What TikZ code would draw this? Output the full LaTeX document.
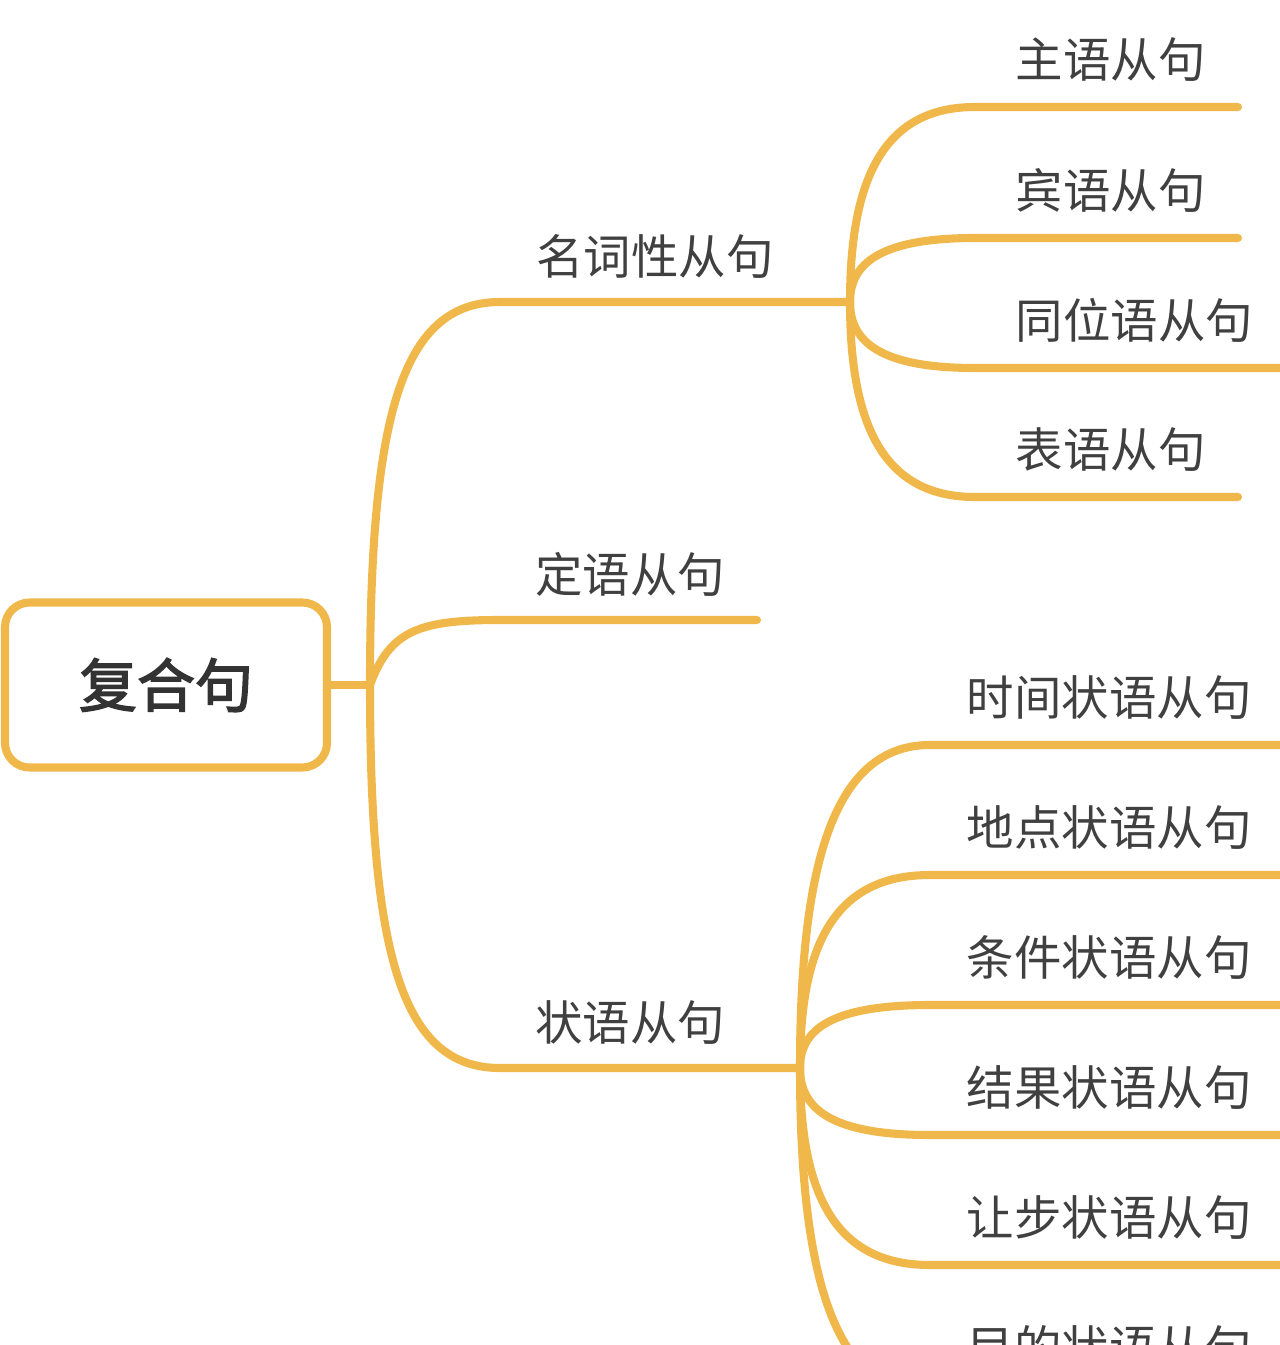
\documentclass[tikz,border=0pt]{standalone}
\usepackage{fontspec}
\newfontfamily\cjk{Noto Sans CJK SC}
\newfontfamily\cjkbold[FakeBold=2.5]{Noto Sans CJK SC}
\definecolor{branch}{HTML}{F0B84A}
\tikzset{
  edge/.style={draw=branch, line width=4.6pt, line cap=round},
  lbl/.style={font=\cjk\fontsize{27}{30}\selectfont, text=black!75, anchor=south, inner sep=2pt},
}
\begin{document}
\begin{tikzpicture}[x=0.02cm,y=-0.02cm]
  \useasboundingbox (0,0) rectangle (1280,1345);
  \clip (0,0) rectangle (1280,1345);
  % root
  \node[draw=branch, line width=4.6pt, rounded corners=14pt, minimum width=322*0.02cm,
        minimum height=165*0.02cm, font=\cjkbold\fontsize{33}{36}\selectfont, text=black!80]
        (root) at (166,685) {复合句};
  \coordinate (hub) at (370,685);
  \draw[edge] (root.east) -- (hub);
  % level 1
  \coordinate (nominal) at (850,302);
  \coordinate (attrib) at (757,620);
  \coordinate (adverb) at (800,1068);
  \draw[edge] (hub) .. controls (370,420) and (400,302) .. (500,302) -- (nominal);
  \draw[edge] (hub) .. controls (390,630) and (420,620) .. (500,620) -- (attrib);
  \draw[edge] (hub) .. controls (370,950) and (400,1068) .. (500,1068) -- (adverb);
  \node[lbl] (nominalL) at (655,282) {名词性从句};
  \node[lbl] (attribL) at (630,600) {定语从句};
  \node[lbl] (adverbL) at (630,1048) {状语从句};
  % nominal clauses
  \foreach \y/\xe/\txt/\nm in {107/1238/主语从句/subj, 238/1238/宾语从句/obj,
                               368/1280/同位语从句/appos, 497/1238/表语从句/pred}{
    \coordinate (\nm) at (\xe,\y);
    \draw[edge] (nominal) .. controls (850,{302+(\y-302)*0.6}) and (880,\y) .. (975,\y) -- (\nm);
    \node[lbl, anchor=south west] (\nm L) at (1012,{\y-22}) {\txt};
  }
  % adverbial clauses
  \foreach \y/\txt/\nm in {745/时间状语从句/time, 875/地点状语从句/place, 1005/条件状语从句/cond,
                           1135/结果状语从句/result, 1265/让步状语从句/concess, 1395/目的状语从句/purpose}{
    \coordinate (\nm) at (1285,\y);
    \draw[edge] (adverb) .. controls (800,{1068+(\y-1068)*0.6}) and (830,\y) .. (930,\y) -- (\nm);
    \node[lbl, anchor=south west] (\nm L) at (963,{\y-22}) {\txt};
  }
\end{tikzpicture}
\end{document}
